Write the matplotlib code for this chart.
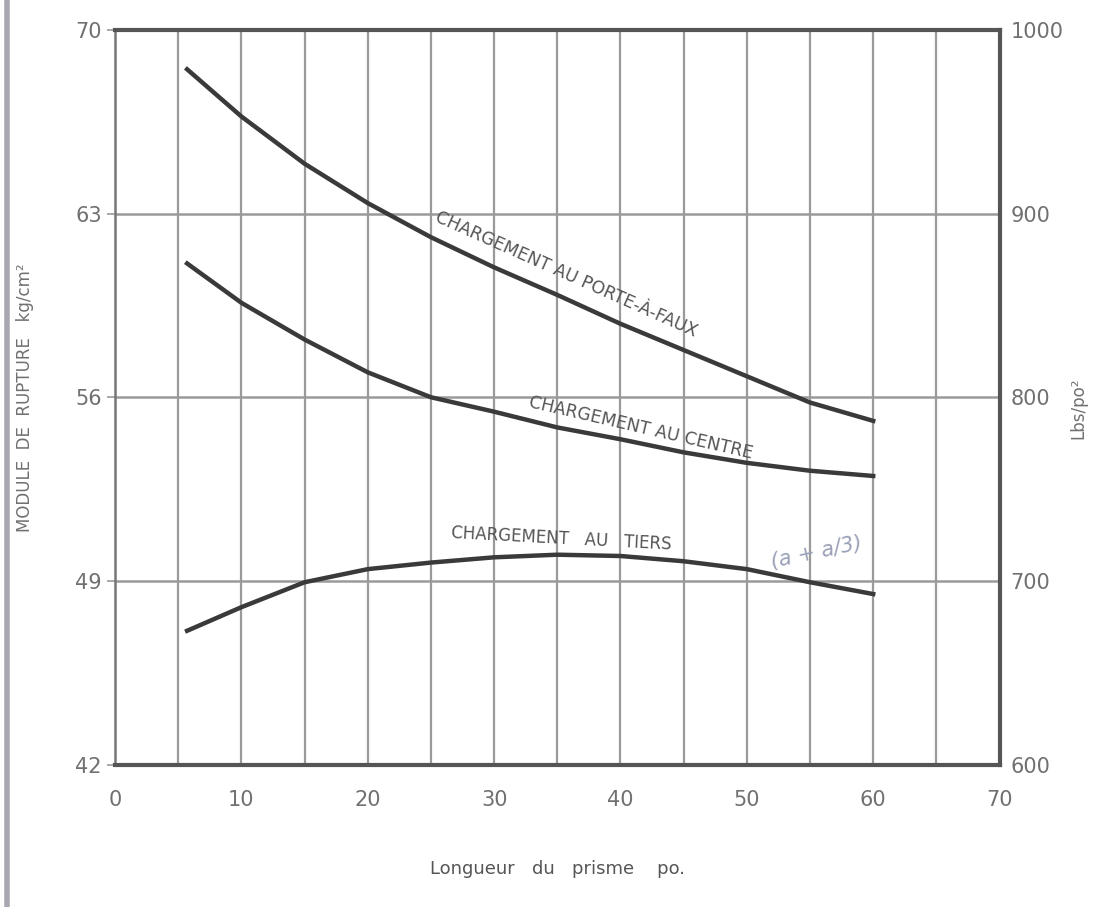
import matplotlib
matplotlib.use("Agg")
import matplotlib.pyplot as plt
from matplotlib.lines import Line2D

plt.rcParams['font.family'] = ['DejaVu Sans']

# prism length (po.) and modulus of rupture (kg/cm2)
longueur = [5.7, 10, 15, 20, 25, 30, 35, 40, 45, 50, 55, 60]
porte_a_faux = [68.5, 66.7, 64.9, 63.4, 62.1, 60.95, 59.9, 58.8, 57.8, 56.8, 55.8, 55.1]
centre = [61.1, 59.6, 58.2, 56.95, 56.0, 55.45, 54.85, 54.4, 53.9, 53.5, 53.2, 53.0]
tiers = [47.1, 48.0, 48.95, 49.45, 49.7, 49.9, 50.0, 49.95, 49.75, 49.45, 48.95, 48.5]

x_ticks = [0, 10, 20, 30, 40, 50, 60, 70]
y_ticks = [42, 49, 56, 63, 70]
y2_ticks = [600, 700, 800, 900, 1000]

ink = '#3a3a3a'
grid_c = '#9a9a9a'
txt_c = '#707070'

fig = plt.figure(figsize=(10.96, 9.07), dpi=100)
ax = fig.add_axes([0.105, 0.157, 0.807, 0.810])

# grid
for gx in range(5, 70, 5):
    ax.axvline(gx, color=grid_c, lw=1.6, zorder=1)
for gy in y_ticks[1:-1]:
    ax.axhline(gy, color=grid_c, lw=1.8, zorder=1)

ax.plot(longueur, porte_a_faux, color=ink, lw=3.2, zorder=3, solid_joinstyle='round')
ax.plot(longueur, centre, color=ink, lw=3.2, zorder=3, solid_joinstyle='round')
ax.plot(longueur, tiers, color=ink, lw=3.2, zorder=3, solid_joinstyle='round')

ax.set_xlim(0, 70)
ax.set_ylim(42, 70)
ax.set_xticks(x_ticks)
ax.set_yticks(y_ticks)
ax.tick_params(axis='both', colors=grid_c, labelcolor=txt_c, labelsize=15, length=6, width=1.2)
ax.tick_params(axis='x', length=0, pad=18)

for side in ['top', 'bottom', 'right']:
    ax.spines[side].set_linewidth(3)
    ax.spines[side].set_color('#555555')
ax.spines['left'].set_linewidth(1.8)
ax.spines['left'].set_color('#777777')

ax2 = ax.twinx()
ax2.set_ylim(600, 1000)
ax2.set_yticks(y2_ticks)
ax2.tick_params(axis='y', colors=grid_c, labelcolor=txt_c, labelsize=15, length=0, pad=8)
for s in ax2.spines.values():
    s.set_visible(False)

# curve labels
ax.text(35.7, 60.7, 'CHARGEMENT AU PORTE-À-FAUX', rotation=-24, ha='center', va='center',
        fontsize=12.5, color='#555555', rotation_mode='anchor', zorder=4)
ax.text(41.6, 54.85, 'CHARGEMENT AU CENTRE', rotation=-13, ha='center', va='center',
        fontsize=12.5, color='#555555', rotation_mode='anchor', zorder=4)
ax.text(35.3, 50.6, 'CHARGEMENT   AU   TIERS', rotation=-3, ha='center', va='center',
        fontsize=12, color='#555555', rotation_mode='anchor', zorder=4)
ax.text(55.5, 50.1, '(a + a/3)', rotation=12, ha='center', va='center',
        fontsize=15, color='#9aa0b8', style='italic', rotation_mode='anchor', zorder=4)

ax.set_ylabel('MODULE  DE  RUPTURE   kg/cm²', fontsize=12, color=txt_c, labelpad=30)
fig.text(0.984, 0.55, 'Lbs/po²', rotation=90, ha='center', va='center',
         fontsize=12, color=txt_c)
ax.set_xlabel('Longueur   du   prisme    po.', fontsize=13, color='#555555', labelpad=36)

# scan border at the left edge
fig.add_artist(Line2D([0.006, 0.006], [0, 1], transform=fig.transFigure, color='#a8a8b0', lw=4))

fig.savefig('out.png', dpi=100, facecolor='white')
